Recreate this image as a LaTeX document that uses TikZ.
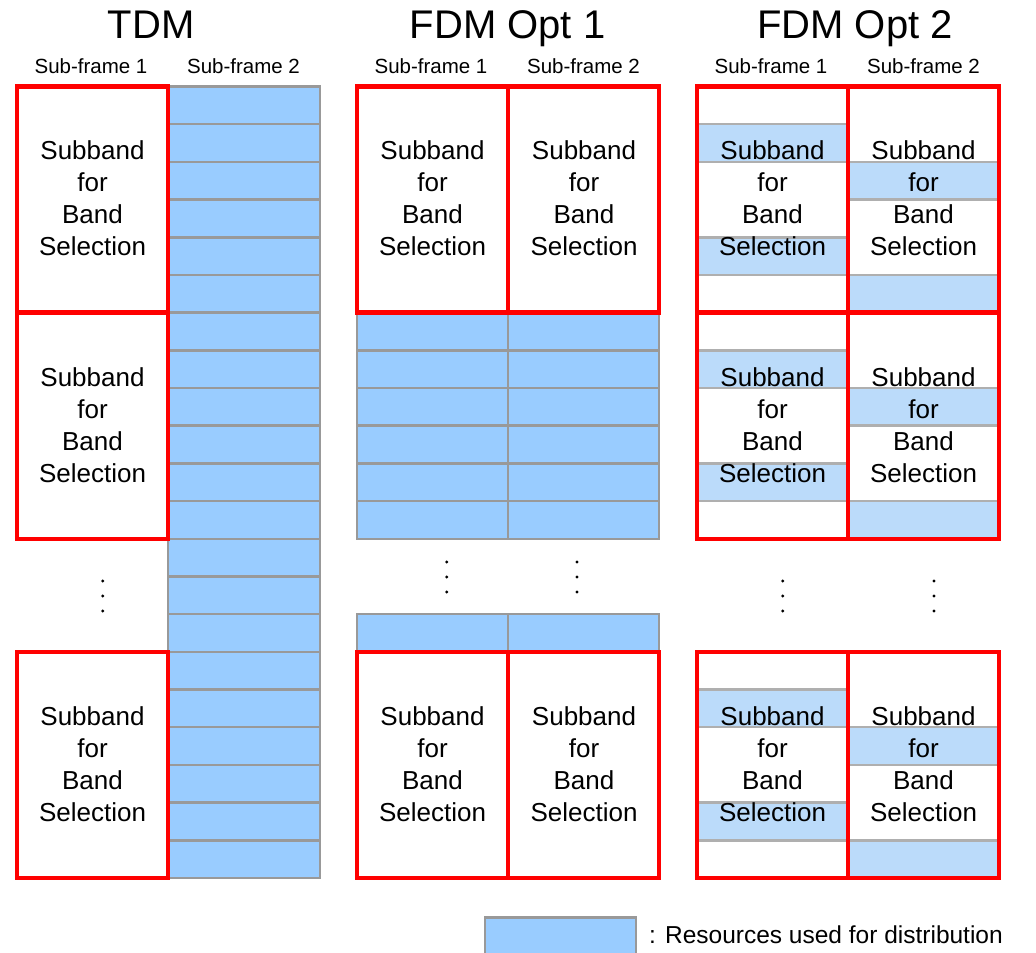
\documentclass[tikz,border=0pt]{standalone}
\usepackage{fontspec}
\setmainfont{Liberation Sans}
\definecolor{cellblue}{RGB}{153,204,255}
\definecolor{cellgray}{RGB}{153,153,153}
\definecolor{stripeblue}{RGB}{187,219,250}
\definecolor{stripegray}{RGB}{175,175,175}
\begin{document}
\begin{tikzpicture}[x=1pt,y=-1pt,
  redbox/.style={draw=red, line width=4.5pt},
  bluecell/.style={fill=cellblue, draw=cellgray, line width=2.5pt},
  stripefill/.style={fill=stripeblue},
  stripeline/.style={draw=stripegray, line width=2.5pt},
  bandtext/.style={font=\fontsize{26}{32}\selectfont, align=center, inner sep=0pt},
  titletext/.style={font=\fontsize{40}{44}\selectfont, anchor=base, inner sep=0pt},
  subtext/.style={font=\fontsize{20.5}{24}\selectfont, anchor=base, inner sep=0pt},
  dotmark/.style={fill=black, draw=none}]
\useasboundingbox (0,0) rectangle (1036,953);
% row grid: 21 rows of equal height starting at y0
\def\yo{86.5}
\def\rh{37.69}

% ---------- TDM ----------
\foreach \r in {0,...,20}
  \draw[bluecell] (168,{\yo+\r*\rh}) rectangle (320,{\yo+(\r+1)*\rh});
\foreach \b in {0,6,15}
  \draw[redbox] (17,{\yo+\b*\rh}) rectangle (168,{\yo+(\b+6)*\rh});
\node[bandtext] (tdmA) at (92.5,{\yo+3*\rh-1}) {Subband\\for\\Band\\Selection};
\node[bandtext] (tdmB) at (92.5,{\yo+9*\rh-1}) {Subband\\for\\Band\\Selection};
\node[bandtext] (tdmC) at (92.5,{\yo+18*\rh-1}) {Subband\\for\\Band\\Selection};
\foreach \y in {581,596,611}
  \fill[dotmark] (102.7,\y) circle (1.6);

% ---------- FDM Opt 1 ----------
\foreach \r in {6,7,8,9,10,11,14}
  \foreach \c in {357,508}
    \draw[bluecell] (\c,{\yo+\r*\rh}) rectangle ({\c+151},{\yo+(\r+1)*\rh});
\foreach \b in {0,15}
  \foreach \c in {357,508}
    \draw[redbox] (\c,{\yo+\b*\rh}) rectangle ({\c+151},{\yo+(\b+6)*\rh});
\node[bandtext] (fdaA) at (432.5,{\yo+3*\rh-1}) {Subband\\for\\Band\\Selection};
\node[bandtext] (fdaB) at (584,{\yo+3*\rh-1}) {Subband\\for\\Band\\Selection};
\node[bandtext] (fdaC) at (432.5,{\yo+18*\rh-1}) {Subband\\for\\Band\\Selection};
\node[bandtext] (fdaD) at (584,{\yo+18*\rh-1}) {Subband\\for\\Band\\Selection};
\foreach \y in {562,577,592}
  \foreach \x in {446.7,577}
    \fill[dotmark] (\x,\y) circle (1.6);

% ---------- FDM Opt 2 ----------
\foreach \b in {0,6,15} {
  \foreach \c/\r in {697/1,697/4,848/2,848/5} {
    \fill[stripefill] (\c,{\yo+(\b+\r)*\rh}) rectangle ({\c+151},{\yo+(\b+\r+1)*\rh});
    \draw[stripeline] (\c,{\yo+(\b+\r)*\rh}) -- ({\c+151},{\yo+(\b+\r)*\rh})
                      (\c,{\yo+(\b+\r+1)*\rh}) -- ({\c+151},{\yo+(\b+\r+1)*\rh});
  }
  \foreach \c in {697,848}
    \draw[redbox] (\c,{\yo+\b*\rh}) rectangle ({\c+151},{\yo+(\b+6)*\rh});
}
\node[bandtext] (fdbA) at (772.5,{\yo+3*\rh-1}) {Subband\\for\\Band\\Selection};
\node[bandtext] (fdbB) at (923.5,{\yo+3*\rh-1}) {Subband\\for\\Band\\Selection};
\node[bandtext] (fdbC) at (772.5,{\yo+9*\rh-1}) {Subband\\for\\Band\\Selection};
\node[bandtext] (fdbD) at (923.5,{\yo+9*\rh-1}) {Subband\\for\\Band\\Selection};
\node[bandtext] (fdbE) at (772.5,{\yo+18*\rh-1}) {Subband\\for\\Band\\Selection};
\node[bandtext] (fdbF) at (923.5,{\yo+18*\rh-1}) {Subband\\for\\Band\\Selection};
\foreach \y in {581,596,611}
  \foreach \x in {782.7,934}
    \fill[dotmark] (\x,\y) circle (1.6);

% ---------- titles ----------
\node[titletext] (ttdm) at (151,38) {TDM};
\node[titletext] (tfda) at (507.5,38) {FDM Opt 1};
\node[titletext] (tfdb) at (855,38) {FDM Opt 2};
\node[subtext] (s1a) at (91,73) {Sub-frame 1};
\node[subtext] (s1b) at (243.5,73) {Sub-frame 2};
\node[subtext] (s2a) at (431,73) {Sub-frame 1};
\node[subtext] (s2b) at (583.5,73) {Sub-frame 2};
\node[subtext] (s3a) at (771,73) {Sub-frame 1};
\node[subtext] (s3b) at (923.5,73) {Sub-frame 2};

% ---------- legend ----------
\draw[bluecell] (485,917.5) rectangle (636,958);
\node[font=\fontsize{24.5}{30}\selectfont, anchor=base west, inner sep=0pt] (legtext) at (649,943) {: Resources used for distribution};
\end{tikzpicture}
\end{document}
